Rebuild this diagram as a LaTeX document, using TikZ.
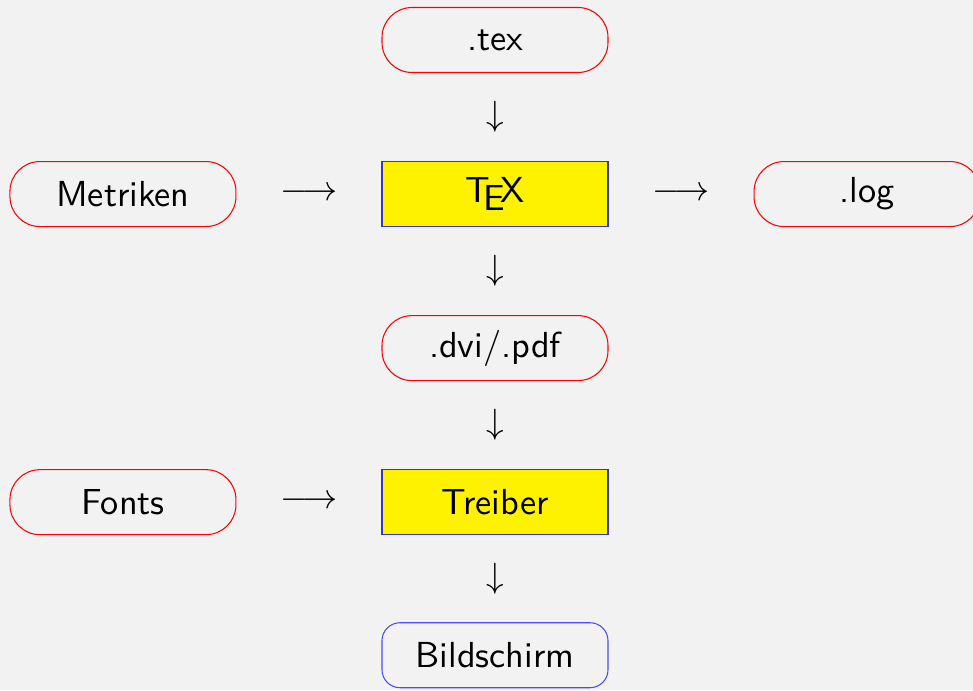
\documentclass[tikz,border=0pt]{standalone}
\usepackage{xcolor}
\usepackage{tikz}
\usetikzlibrary{positioning}

\definecolor{bggray}{HTML}{F2F2F2}
\definecolor{progblue}{HTML}{3535D0}
\definecolor{outblue}{HTML}{4A4AFF}

\begin{document}
\begin{tikzpicture}[font=\sffamily\fontsize{10.3}{12}\selectfont,
  filebox/.style={rectangle, draw=red, line width=0.3pt, rounded corners=0.3cm, minimum width=2.26cm, minimum height=0.65cm, inner sep=0pt},
  progbox/.style={rectangle, draw=progblue, line width=0.3pt, fill=yellow, minimum width=2.26cm, minimum height=0.65cm, inner sep=0pt},
  outbox/.style={rectangle, draw=outblue, line width=0.3pt, rounded corners=0.18cm, minimum width=2.26cm, minimum height=0.65cm, inner sep=0pt}]
\fill[bggray] (0,0) rectangle (9.73,-6.90);
\useasboundingbox (0,0) rectangle (9.73,-6.90);

\node (tex) [filebox] at (4.95,-0.40) {.tex};
\node (texprog) [progbox, below=0.88cm of tex] {\TeX};
\node (metriken) [filebox, left=1.45cm of texprog] {Metriken};
\node (log) [filebox, right=1.45cm of texprog] {.log};
\node (dvi) [filebox, below=0.88cm of texprog] {.dvi/.pdf};
\node (treiber) [progbox, below=0.88cm of dvi] {Treiber};
\node (fonts) [filebox, left=1.45cm of treiber] {Fonts};
\node (bildschirm) [outbox, below=0.87cm of treiber] {Bildschirm};

\path (tex) -- node {$\downarrow$} (texprog);
\path (metriken) -- node {$\longrightarrow$} (texprog);
\path (texprog) -- node {$\longrightarrow$} (log);
\path (texprog) -- node {$\downarrow$} (dvi);
\path (dvi) -- node {$\downarrow$} (treiber);
\path (fonts) -- node {$\longrightarrow$} (treiber);
\path (treiber) -- node {$\downarrow$} (bildschirm);
\end{tikzpicture}
\end{document}
